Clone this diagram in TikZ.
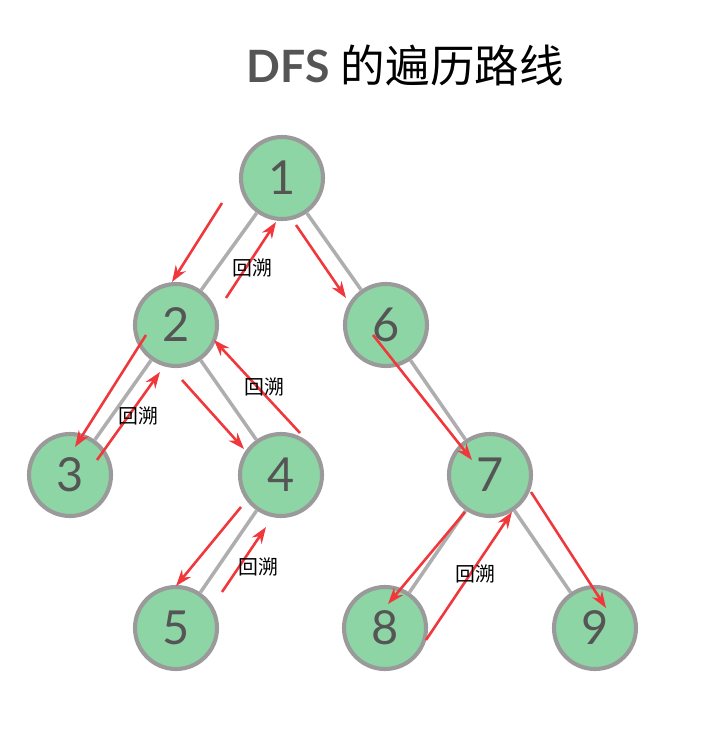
\documentclass[tikz,border=0pt]{standalone}
\usepackage{fontspec}
\setmainfont{Lato}
\newfontfamily\cjk{Noto Sans CJK SC}
\usetikzlibrary{arrows.meta}
\definecolor{leaf}{HTML}{8DD5A5}
\definecolor{rim}{HTML}{9A9A9A}
\definecolor{digit}{HTML}{555555}
\definecolor{path}{HTML}{F0383C}
\begin{document}
\begin{tikzpicture}[x=0.03cm,y=-0.03cm,
    vertex/.style={circle, fill=leaf, draw=rim, line width=3.5pt, minimum size=82*0.03cm, inner sep=0pt, text=digit, font=\fontsize{40}{40}\selectfont},
    edge/.style={draw=rim!80, line width=3pt},
    trail/.style={draw=path, line width=2.2pt, -{Stealth[length=14pt,width=10pt]}},
    back/.style={font=\cjk\fontsize{17}{17}\selectfont}]

    \useasboundingbox (0,0) rectangle (720,731);

    % Title
    \node at (405,65) {\fontsize{38}{38}\selectfont\textbf{\color{digit}DFS} \cjk 的遍历路线};

    % Tree
    \node[vertex] (n1) at (282,178) {1};
    \node[vertex] (n2) at (176,325) {2};
    \node[vertex] (n6) at (386,325) {6};
    \node[vertex] (n3) at (70,475) {3};
    \node[vertex] (n4) at (281,475) {4};
    \node[vertex] (n7) at (490,475) {7};
    \node[vertex] (n5) at (176,628) {5};
    \node[vertex] (n8) at (385,628) {8};
    \node[vertex] (n9) at (595,628) {9};

    \foreach \a/\b in {n1/n2, n1/n6, n2/n3, n2/n4, n4/n5, n6/n7, n7/n8, n7/n9}
        \draw[edge] (\a) -- (\b);

    % Traversal
    \foreach \x/\y/\u/\v in {222/203/172/282, 226/298/276/222, 296/225/346/298,
        146/335/75/447, 97/460/160/372, 182/380/244/449, 300/433/214/340,
        241/507/176/586, 222/592/266/527, 373/335/472/460, 465/512/388/604,
        426/640/512/512, 531/492/606/608}
        \draw[trail] (\x,\y) -- (\u,\v);

    % Labels
    \foreach \x/\y in {252/268, 264/387, 138/416, 258/567, 475/574}
        \node[back] at (\x,\y) {回溯};

\end{tikzpicture}
\end{document}
